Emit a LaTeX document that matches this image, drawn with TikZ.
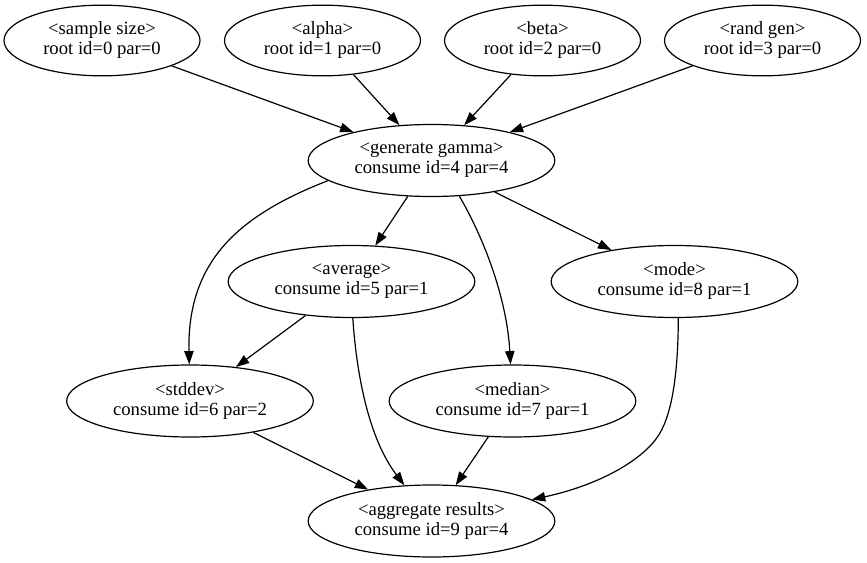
\documentclass[tikz,border=0pt]{standalone}
\usepackage{fontspec}
\setmainfont{Liberation Serif}
\usetikzlibrary{arrows.meta,shapes.geometric}

\begin{document}
\begin{tikzpicture}[>={Triangle[length=10pt,width=7pt]}, x=0.75pt, y=-0.75pt, line width=0.9pt]

		\tikzstyle{root}=[draw, ellipse, inner sep=0pt, minimum width=147pt,
		minimum height=53pt, align=center, font=\fontsize{14}{15}\selectfont]
		\tikzstyle{consume}=[root, minimum width=185pt, minimum height=54pt]

		\useasboundingbox (0,0) rectangle (867,563);

		% Root inputs
		\node[root] (R0) at (102,40.5) {<sample size>\\root id=0 par=0};
		\node[root] (R1) at (322.5,40.5) {<alpha>\\root id=1 par=0};
		\node[root] (R2) at (542.5,40.5) {<beta>\\root id=2 par=0};
		\node[root] (R3) at (762.5,40.5) {<rand gen>\\root id=3 par=0};

		% Consumers
		\node[consume] (C4) at (431.5,160.5) {<generate gamma>\\consume id=4 par=4};
		\node[consume] (C5) at (351.5,281.5) {<average>\\consume id=5 par=1};
		\node[consume] (C8) at (674.5,281.5) {<mode>\\consume id=8 par=1};
		\node[consume] (C6) at (190,401) {<stddev>\\consume id=6 par=2};
		\node[consume] (C7) at (512.5,401) {<median>\\consume id=7 par=1};
		\node[consume] (C9) at (431.5,521) {<aggregate results>\\consume id=9 par=4};

		% Arrows
		\foreach \r in {R0,R1,R2,R3}
		\draw[->] (\r) -- (C4);
		\draw[->] (C4) -- (C5);
		\draw[->] (C4) -- (C8);
		\draw[->] (C5) -- (C6);
		\draw[->] (C6) -- (C9);
		\draw[->] (C7) -- (C9);
		\draw[->] (C4.191) .. controls (240,215) and (187,260) .. (C6);
		\draw[->] (C4.308) .. controls (485,240) and (507,300) .. (C7);
		\draw[->] (C5.272) .. controls (357,380) and (370,440) .. (C9);
		\draw[->] (C8.276) .. controls (678,375) and (672,412) .. (660,433)
		.. controls (645,459) and (600,485) .. (C9);

\end{tikzpicture}
\end{document}
